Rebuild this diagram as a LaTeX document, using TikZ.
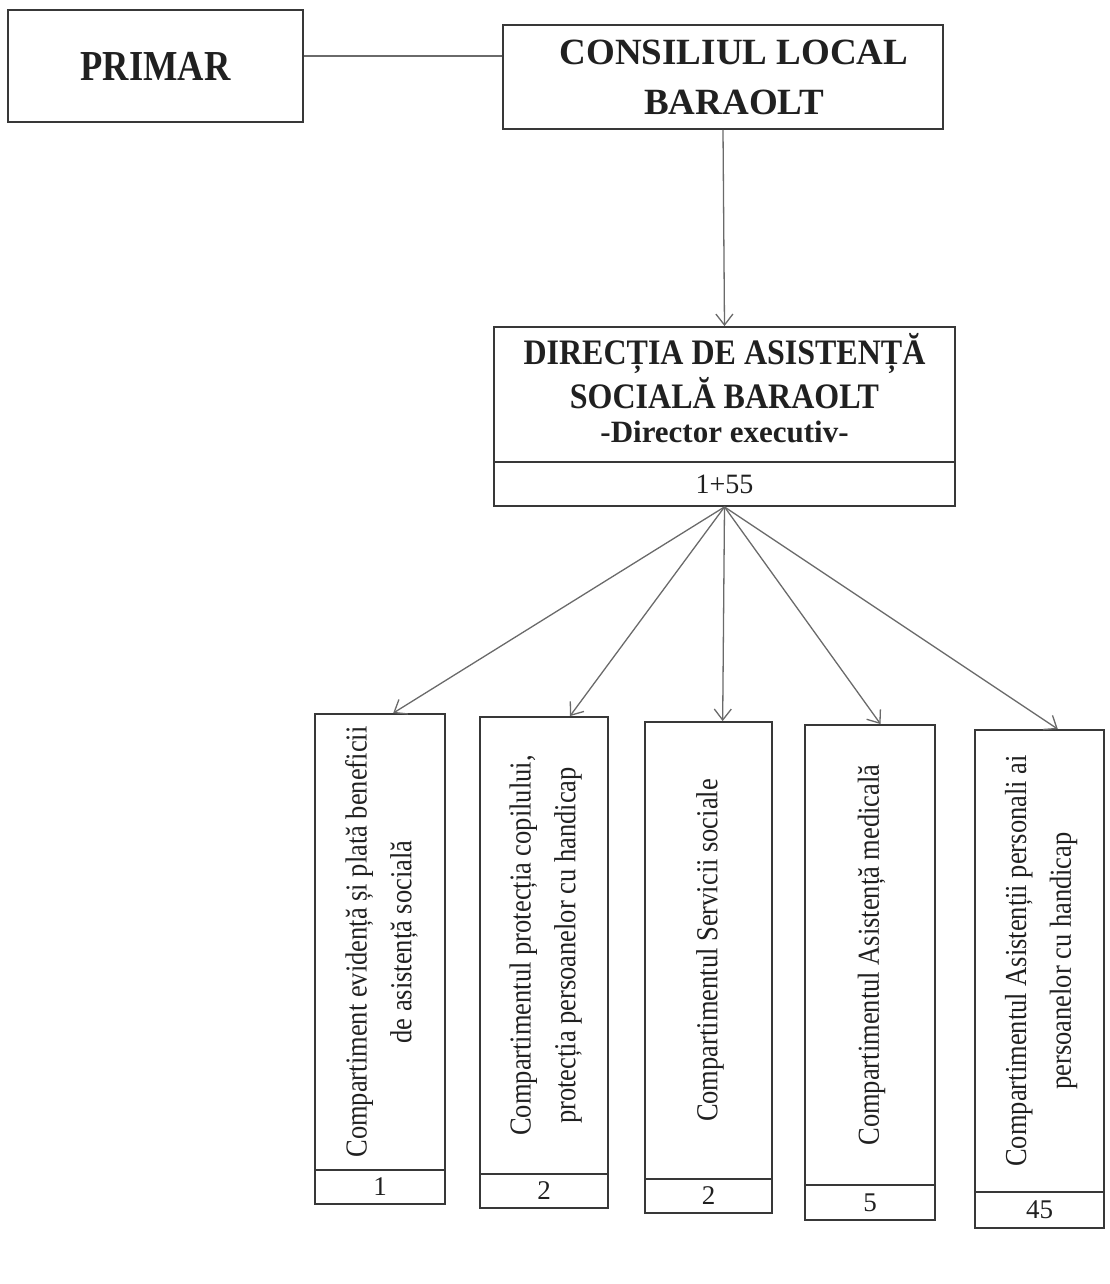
\documentclass[tikz,border=0pt]{standalone}
\usepackage{fontspec}
\setmainfont{Liberation Serif}
\usetikzlibrary{arrows.meta,calc}
\definecolor{ln}{HTML}{383838}
\definecolor{ar}{HTML}{6A6A6A}
\definecolor{tx}{HTML}{202020}
\newcommand\vtxt[1]{\rotatebox{90}{\scalebox{1}[1.15]{\begin{tabular}{@{}c@{}}#1\end{tabular}}}}
\begin{document}
\begin{tikzpicture}[x=1pt,y=-1pt,
  box/.style={draw=ln,line width=1.8pt,rectangle,inner sep=0pt,text=tx},
  conn/.style={draw=ar,line width=1.3pt},
  arr/.style={conn,-{Straight Barb[length=11pt,width=17pt,line width=1.3pt]}},
  vfont/.style={font=\fontsize{26.5}{39}\selectfont},
  nfont/.style={font=\fontsize{27}{30}\selectfont}]
\useasboundingbox (0,0) rectangle (1109,1284);

% top level
\node[box,minimum width=295pt,minimum height=112pt,font=\fontsize{36.5}{40}\selectfont\bfseries] (pr) at (155.5,66) {\scalebox{1}[1.17]{PRIMAR}};
\node[box,minimum width=440pt,minimum height=104pt,align=center,font=\fontsize{37}{50}\selectfont\bfseries] (cl) at (723,77) {\hspace*{22pt}CONSILIUL LOCAL\\\hspace*{22pt}BARAOLT};
\coordinate (lk) at (0,56);
\draw[conn] (pr.east |- lk) -- (cl.west |- lk);

% directia
\node[box,minimum width=461pt,minimum height=135pt,font=\fontsize{32}{43}\selectfont\bfseries] (dir) at (724.5,394.5)
  {\begin{tabular}{@{}c@{}}\scalebox{1}[1.12]{DIRECȚIA DE ASISTENȚĂ}\\ \scalebox{1}[1.12]{SOCIALĂ BARAOLT}\\[-9pt]{\fontsize{31}{34}\selectfont -Director executiv-}\end{tabular}};
\node[box,minimum width=461pt,minimum height=44pt,font=\fontsize{28}{30}\selectfont] (dnum) at (724.5,484) {\raisebox{-3pt}{1+55}};
\draw[arr] (cl.south) -- (dir.north);

% compartments
\node[box,minimum width=130pt,minimum height=456pt,vfont] (b1) at (380,942) {\vtxt{Compartiment evidență și plată beneficii\\de asistență socială}};
\node[box,minimum width=130pt,minimum height=34pt,nfont] (n1) at (380,1187) {1};

\node[box,minimum width=128pt,minimum height=457pt,vfont] (b2) at (544,945.5) {\vtxt{Compartimentul protecția copilului,\\protecția persoanelor cu handicap}};
\node[box,minimum width=128pt,minimum height=34pt,nfont] (n2) at (544,1191) {2};

\node[box,minimum width=127pt,minimum height=457pt,vfont] (b3) at (708.5,950.5) {\vtxt{Compartimentul Servicii sociale}};
\node[box,minimum width=127pt,minimum height=34pt,nfont] (n3) at (708.5,1196) {2};

\node[box,minimum width=130pt,minimum height=460pt,vfont] (b4) at (870,955) {\vtxt{Compartimentul Asistență medicală}};
\node[box,minimum width=130pt,minimum height=35pt,nfont] (n4) at (870,1202.5) {5};

\node[box,minimum width=129pt,minimum height=462pt,vfont] (b5) at (1039.5,961) {\vtxt{Compartimentul Asistenții personali ai\\persoanelor cu handicap}};
\node[box,minimum width=129pt,minimum height=36pt,nfont] (n5) at (1039.5,1210) {45};

\draw[arr] (dnum.south) -- ($(b1.north west)!0.60!(b1.north east)$);
\draw[arr] (dnum.south) -- ($(b2.north west)!0.70!(b2.north east)$);
\draw[arr] (dnum.south) -- ($(b3.north west)!0.61!(b3.north east)$);
\draw[arr] (dnum.south) -- ($(b4.north west)!0.58!(b4.north east)$);
\draw[arr] (dnum.south) -- ($(b5.north west)!0.64!(b5.north east)$);
\end{tikzpicture}
\end{document}
